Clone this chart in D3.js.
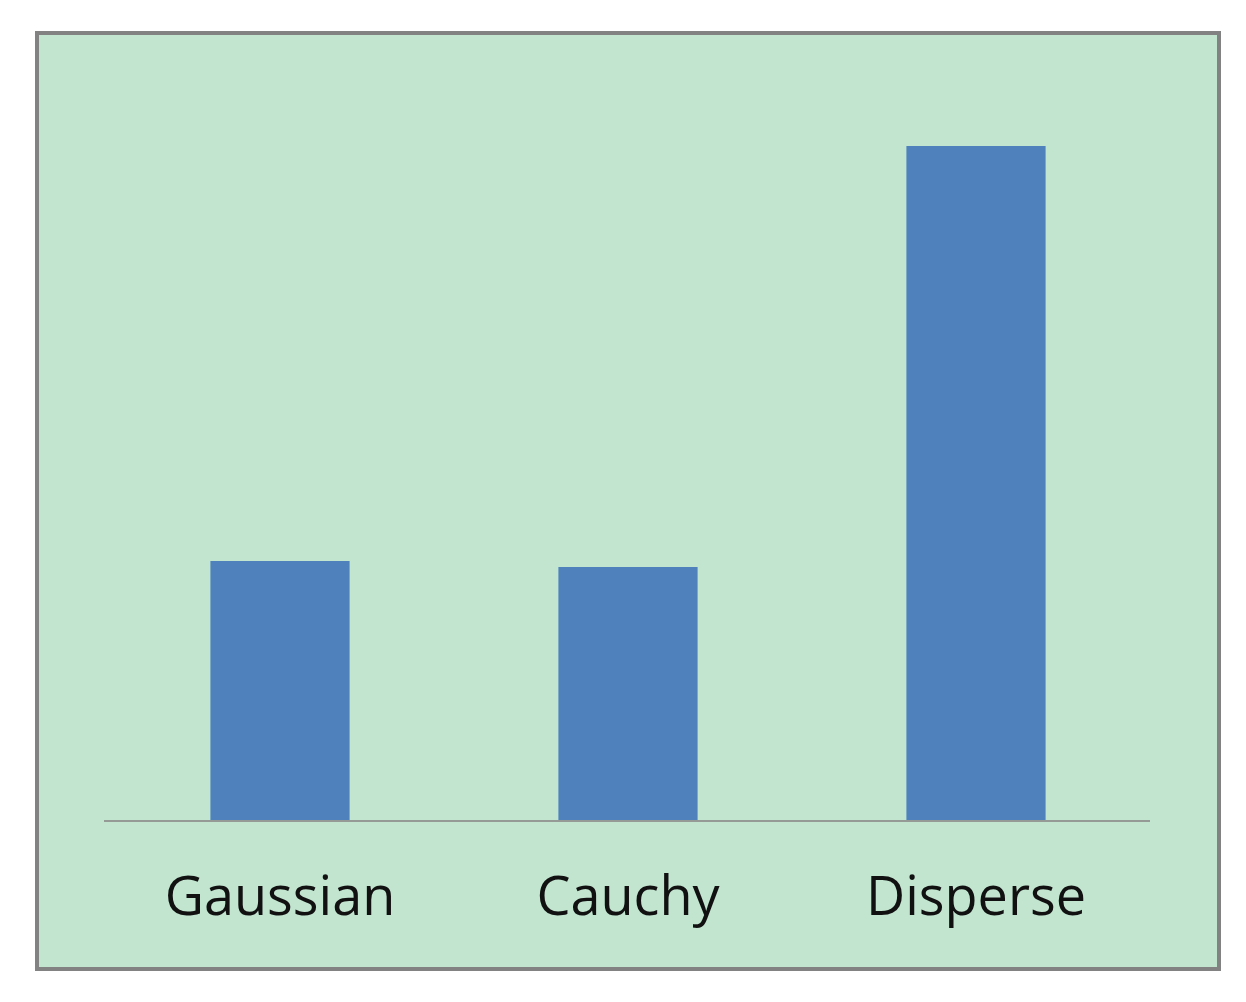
<!DOCTYPE html>
<html>
<head>
<meta charset="utf-8">
<script src="https://cdn.jsdelivr.net/npm/d3@7"></script>
<style>
  body { margin: 0; background: #fff; }
</style>
</head>
<body>
<svg id="chart" width="1246" height="1002"></svg>
<script>
let categories = ['Gaussian', 'Cauchy', 'Disperse'];
let values = [2.60, 2.54, 6.75];

let svg = d3.select('#chart');

// frame
svg.append('rect')
    .attr('x', 37)
    .attr('y', 33)
    .attr('width', 1182)
    .attr('height', 936)
    .attr('fill', '#c2e5d0')
    .attr('stroke', '#828282')
    .attr('stroke-width', 4);

let x = d3.scaleBand()
    .domain(categories)
    .range([106, 1150])
    .paddingInner(0.6)
    .paddingOuter(0.3);

let y = d3.scaleLinear()
    .domain([0, 7.5])
    .range([821, 71]);

svg.selectAll('.bar')
    .data(values)
    .enter()
    .append('rect')
    .attr('class', 'bar')
    .attr('x', (d, i) => x(categories[i]))
    .attr('y', (d) => y(d))
    .attr('width', x.bandwidth())
    .attr('height', (d) => y(0) - y(d))
    .attr('fill', '#4f81bd');

let xAxis = d3.axisBottom(x).tickSize(0).tickPadding(0);

let ax = svg.append('g')
    .attr('transform', 'translate(0,' + y(0) + ')')
    .call(xAxis);

ax.select('.domain')
    .attr('d', 'M104,0H1150')
    .attr('stroke', '#969a96')
    .attr('stroke-width', 2);

ax.selectAll('text')
    .attr('dy', null)
    .attr('y', 94)
    .attr('font-family', '"Open Sans", "Noto Sans", sans-serif')
    .attr('font-size', '54px')
    .attr('fill', '#111');
</script>
</body>
</html>
